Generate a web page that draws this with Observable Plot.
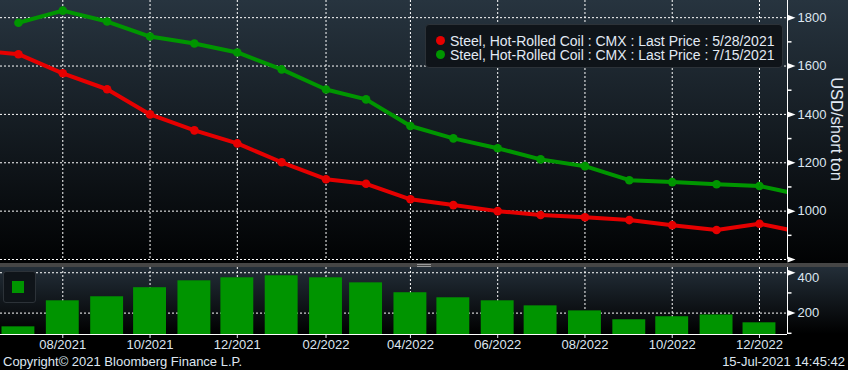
<!DOCTYPE html>
<html><head><meta charset="utf-8">
<script src="https://cdn.jsdelivr.net/npm/d3@7"></script>
<script src="https://cdn.jsdelivr.net/npm/@observablehq/plot@0.6"></script>
<style>
html,body{margin:0;padding:0;background:#000;}
#wrap{position:relative;width:848px;height:370px;overflow:hidden;background:#000;font-family:"Liberation Sans",Arial,sans-serif;color:#dde6f0;}
.abs{position:absolute;}
#bgTop{left:0;top:0;width:848px;height:263px;background:linear-gradient(#27343f,#010203);}
#sep{left:0;top:263px;width:848px;height:4px;background:#464646;}
#handle1,#handle2{left:417px;width:14px;height:1px;background:#9a9a9a;}
#handle1{top:264px;}#handle2{top:266px;}
#bgBot{left:0;top:267px;width:848px;height:67px;background:linear-gradient(#232e38,#000);}
#legend{left:425px;top:24px;width:356px;height:42px;background:#0f1419;border:1px solid #2c3238;border-radius:4px;}
#ltext{position:absolute;left:450px;top:34px;font-size:14px;line-height:14px;white-space:pre;color:#e2eaf4;}
.ldot{position:absolute;width:9px;height:9px;border-radius:50%;}
#lbox{left:3px;top:271px;width:31px;height:30px;background:#0f1419;border:1px solid #2c3238;border-radius:3px;}
#lsq{left:12px;top:281px;width:12px;height:12px;background:#009400;}
#ylab{left:836px;top:129px;transform:translate(-50%,-50%) rotate(90deg);font-size:16.5px;white-space:nowrap;color:#e2eaf4;}
#copy{left:3px;top:354px;font-size:13px;line-height:16px;white-space:nowrap;}
#stamp{right:3px;top:354px;font-size:13px;line-height:16px;white-space:nowrap;}
</style></head><body><div id="wrap">
<div id="bgTop" class="abs"></div>
<div id="sep" class="abs"></div>
<div id="handle1" class="abs"></div><div id="handle2" class="abs"></div>
<div id="bgBot" class="abs"></div>
</div>
<script>
// ---- data ----
const contractMonths = ["2021-06-01","2021-07-01","2021-08-01","2021-09-01","2021-10-01","2021-11-01","2021-12-01",
  "2022-01-01","2022-02-01","2022-03-01","2022-04-01","2022-05-01","2022-06-01","2022-07-01","2022-08-01",
  "2022-09-01","2022-10-01","2022-11-01","2022-12-01","2023-01-01"];
const price20210528 = [1665,1649,1570,1504,1400,1334,1280,1202,1132,1113,1049,1025,1000,984,975,963,942,922,948,910];
const price20210715 = [null,1779,1829,1784,1722,1693,1656,1586,1503,1462,1352,1301,1260,1214,1186,1128,1120,1111,1104,1065];
const barMonths = contractMonths.slice(1, 19);
const spreadValues = [132,261,281,326,360,375,385,375,350,301,276,261,236,211,167,182,191,152];
const seriesLabels = ["Steel, Hot-Rolled Coil : CMX : Last Price : 5/28/2021",
                      "Steel, Hot-Rolled Coil : CMX : Last Price : 7/15/2021"];
const xTickMonths = ["2021-08-01","2021-10-01","2021-12-01","2022-02-01","2022-04-01","2022-06-01","2022-08-01","2022-10-01","2022-12-01"];
const topTicks = [800,1000,1200,1400,1600,1800];
const topLabelTicks = [1000,1200,1400,1600,1800];
const topMinorTicks = [900,1100,1300,1500,1700];
const botTicks = [200,400];
const botMinorTicks = [100,300];
const yAxisTitle = "USD/short ton";
const copyright = "Copyright\u00A9 2021 Bloomberg Finance L.P.";
const stamp = "15-Jul-2021 14:45:42";

// ---- styles ----
const RED = "#e60000", GREEN = "#009600", BAR = "#009400", TXT = "#dde6f0";
const xDomain = [new Date("2021-06-18T11:00:00Z"), new Date("2022-12-20T14:00:00Z")];
const DAY = 864e5;

const redData = contractMonths.map((m,i)=>({date:new Date(m), value:price20210528[i]}));
const greenData = contractMonths.map((m,i)=>({date:new Date(m), value:price20210715[i]})).filter(d=>d.value!=null);
const barData = barMonths.map((m,i)=>({date:new Date(m), value:spreadValues[i]}));
const gridDates = xTickMonths.map(d=>new Date(d));

const triSym = {draw(ctx){ctx.moveTo(0,-3);ctx.lineTo(8,0);ctx.lineTo(0,3);ctx.closePath();}};
const tickSym = {draw(ctx){ctx.moveTo(0,0);ctx.lineTo(4,0);}};
const baseStyle = {background:"transparent", color:TXT, fontFamily:"Liberation Sans, Arial, sans-serif", fontSize:"13px", position:"absolute", left:"0px"};

const topPlot = Plot.plot({
  width:848, height:263, marginTop:0, marginRight:61, marginBottom:4, marginLeft:0,
  style:{...baseStyle, top:"0px"},
  x:{type:"utc", domain:xDomain, axis:null},
  y:{domain:[800,1871], axis:"right", ticks:topLabelTicks, tickSize:0, tickPadding:10, tickFormat:d=>String(d), label:null},
  marks:[
    Plot.ruleY(topTicks, {stroke:"#fff", strokeDasharray:"2,2"}),
    Plot.ruleX(gridDates, {stroke:"#fff", strokeDasharray:"2,2"}),
    Plot.line(redData, {x:"date", y:"value", stroke:RED, strokeWidth:4, clip:true}),
    Plot.line(greenData, {x:"date", y:"value", stroke:GREEN, strokeWidth:4, clip:true}),
    Plot.dot(redData, {x:"date", y:"value", fill:RED, r:4.3, clip:true}),
    Plot.dot(greenData, {x:"date", y:"value", fill:GREEN, r:4.3, clip:true}),
    Plot.ruleX([xDomain[1]], {stroke:"#fff"}),
    Plot.dot(topTicks, {y:d=>d, frameAnchor:"right", symbol:triSym, fill:"#fff", stroke:null}),
    Plot.dot(topMinorTicks, {y:d=>d, frameAnchor:"right", symbol:tickSym, stroke:"#fff", fill:null})
  ]
});

const botPlot = Plot.plot({
  width:848, height:103, marginTop:0, marginRight:61, marginBottom:36, marginLeft:0,
  style:{...baseStyle, top:"267px"},
  x:{type:"utc", domain:xDomain, ticks:gridDates, tickFormat:d3.utcFormat("%m/%Y"), tickSize:4, tickPadding:1, label:null},
  y:{domain:[94,426], axis:null},
  marks:[
    Plot.ruleY(botTicks, {stroke:"#fff", strokeDasharray:"2,2"}),
    Plot.ruleX(gridDates, {stroke:"#fff", strokeDasharray:"2,2"}),
    Plot.rectY(barData, {x1:d=>new Date(+d.date-11.5*DAY), x2:d=>new Date(+d.date+11.5*DAY), y1:94, y2:"value", fill:BAR, clip:true}),
    Plot.ruleX([xDomain[1]], {stroke:"#fff"}),
    Plot.ruleY([94], {stroke:"#fff"}),
    Plot.dot(botTicks, {y:d=>d, frameAnchor:"right", symbol:triSym, fill:"#fff", stroke:null}),
    Plot.dot(botMinorTicks, {y:d=>d, frameAnchor:"right", symbol:tickSym, stroke:"#fff", fill:null}),
    Plot.text([botTicks[0]], {y:d=>d, text:d=>String(d), frameAnchor:"right", textAnchor:"start", dx:10, fill:TXT, fontSize:13}),
    Plot.text([botTicks[1]], {y:d=>d, text:d=>String(d), frameAnchor:"right", textAnchor:"start", dx:10, dy:5, fill:TXT, fontSize:13})
  ]
});

const wrap = document.getElementById("wrap");
wrap.appendChild(topPlot);
wrap.appendChild(botPlot);

function add(html){ const t=document.createElement("div"); t.innerHTML=html; const el=t.firstElementChild; wrap.appendChild(el); return el; }
add('<div id="legend" class="abs"></div>');
add(`<div class="ldot" style="left:436px;top:36px;background:${RED}"></div>`);
add(`<div class="ldot" style="left:436px;top:50px;background:${GREEN}"></div>`);
add('<div id="ltext"></div>').textContent = seriesLabels.join("\n");
add('<div id="lbox" class="abs"></div>');
add('<div id="lsq" class="abs"></div>');
add('<div id="ylab" class="abs"></div>').textContent = yAxisTitle;
add('<div id="copy" class="abs"></div>').textContent = copyright;
add('<div id="stamp" class="abs"></div>').textContent = stamp;
</script></body></html>
